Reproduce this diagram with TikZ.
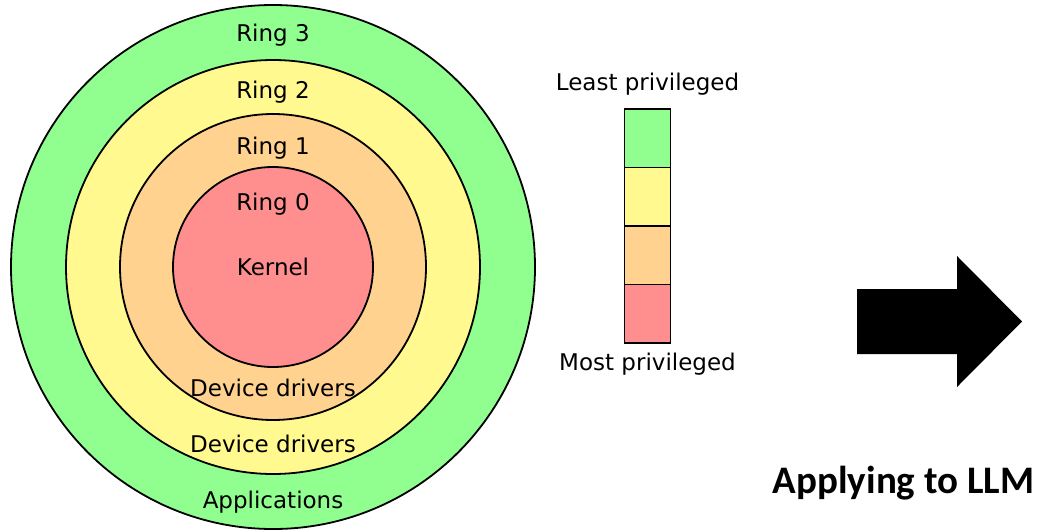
\documentclass[tikz,border=0pt]{standalone}
\usepackage{fontspec}
\setmainfont{DejaVu Sans}
\newfontfamily\headfont{Carlito}
\begin{document}
\begin{tikzpicture}[x=1pt,y=-1pt,
  ringdisc/.style={circle, draw=black, line width=1.8pt, inner sep=0pt},
  lbl/.style={anchor=base, inner sep=0pt, font=\fontsize{23}{28}\selectfont},
  seg/.style={rectangle, draw=black, line width=1.6pt, minimum width=46pt, minimum height=58.5pt, inner sep=0pt}]
\definecolor{rthree}{HTML}{90FF90}
\definecolor{rtwo}{HTML}{FFF98F}
\definecolor{rone}{HTML}{FFD290}
\definecolor{rzero}{HTML}{FF8F8F}
\useasboundingbox (0,0) rectangle (1040,530);
\fill[white] (0,0) rectangle (1040,530);

% concentric protection rings
\node[ringdisc, fill=rthree, minimum size=524pt] (r3) at (273,267) {};
\node[ringdisc, fill=rtwo,   minimum size=414pt] (r2) at (273,267) {};
\node[ringdisc, fill=rone,   minimum size=306pt] (r1) at (273,267) {};
\node[ringdisc, fill=rzero,  minimum size=200pt] (r0) at (273,267) {};

% ring labels
\node[lbl] (t3)  at (273,41.5)  {Ring 3};
\node[lbl] (t2)  at (273,98)    {Ring 2};
\node[lbl] (t1)  at (273,154.5) {Ring 1};
\node[lbl] (t0)  at (273,210.5) {Ring 0};
\node[lbl] (tk)  at (273,275.5) {Kernel};
\node[lbl] (dd1) at (273,396.5) {Device drivers};
\node[lbl] (dd2) at (273,452.5) {Device drivers};
\node[lbl] (app) at (273,508.5) {Applications};

% privilege scale
\node[seg, fill=rthree] (s3) at (647.5,138.25) {};
\node[seg, fill=rtwo]   (s2) at (647.5,196.75) {};
\node[seg, fill=rone]   (s1) at (647.5,255.25) {};
\node[seg, fill=rzero]  (s0) at (647.5,313.75) {};
\node[lbl] (least) at (647.5,90.5)  {Least privileged};
\node[lbl] (most)  at (647.5,370.5) {Most privileged};

% block arrow
\fill[black] (857,289) coordinate (a1) -- (957,289) -- (957,256) -- (1022,321.5) coordinate (tip)
  -- (957,387) -- (957,354) -- (857,354) -- cycle;
\node[anchor=base, inner sep=0pt, font=\headfont\bfseries\fontsize{39}{44}\selectfont] (llm) at (903.5,493) {Applying to LLM};
\end{tikzpicture}
\end{document}
